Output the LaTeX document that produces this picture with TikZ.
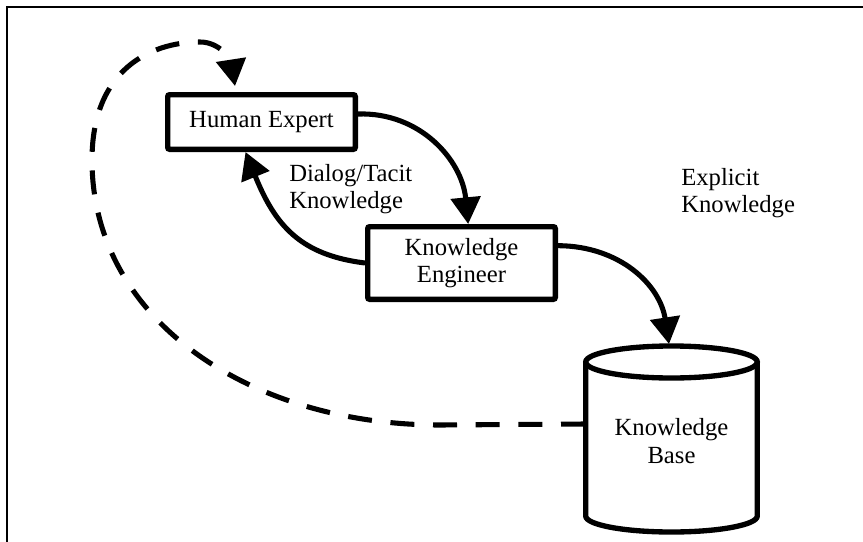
\documentclass[tikz,border=0pt]{standalone}
\usepackage{fontspec}
\setmainfont{Liberation Serif}
\usetikzlibrary{arrows.meta}
\begin{document}
\begin{tikzpicture}[x=0.75pt,y=-0.75pt,
  txt/.style={font=\fontsize{18.5}{20.5}\selectfont},
  box/.style={txt, draw, line width=4pt, rounded corners=1.5pt, inner sep=0pt, align=center},
  lbl/.style={txt, inner sep=0pt, align=left, anchor=west},
  conn/.style={line width=3.8pt, -{Triangle[length=20pt,width=22pt]}},
  dashconn/.style={conn, dash pattern=on 18pt off 14pt}]
\useasboundingbox (0,0) rectangle (863,542);
% frame
\draw[line width=1.6pt] (7,545) -- (7,7) -- (866,7);
% nodes
\node[box, minimum width=140.75pt, minimum height=41pt] (he) at (261.5,122) {Human Expert};
\node[box, minimum width=140.75pt, minimum height=54.5pt] (ke) at (461.5,263) {Knowledge\\Engineer};
% cylinder
\draw[line width=4pt] (671.5,362) ellipse [x radius=64.35pt, y radius=12pt];
\draw[line width=4pt, line join=round] (585.7,362) -- (585.7,516)
  arc[start angle=180, end angle=360, x radius=64.35pt, y radius=12pt] -- (757.3,362);
\node[txt, align=center] (kb) at (671.5,441) {Knowledge\\Base};
\coordinate (kbtop) at (669,344);
\coordinate (kbleft) at (585,424);
\coordinate (dtip) at (235,86);
% labels
\node[lbl] (l1) at (289,189) {Dialog/Tacit\\Knowledge};
\node[lbl] (l2) at (681,193) {Explicit\\Knowledge};
% connectors
\draw[conn] ([yshift=6pt]he.east) .. controls (420,112) and (462,160) .. ([xshift=5pt]ke.north);
\draw[conn] (ke.west) .. controls (300,255) and (275,225) .. ([xshift=-12pt]he.south);
\draw[conn] ([yshift=13pt]ke.east) .. controls (620,246) and (660,285) .. (kbtop);
\draw[dashconn] (kbleft) -- (440,425) .. controls (250,425) and (92,320) .. (92,160)
  .. controls (92,70) and (150,42) .. (200,42) .. controls (220,42) and (231,60) .. (dtip);
\end{tikzpicture}
\end{document}
